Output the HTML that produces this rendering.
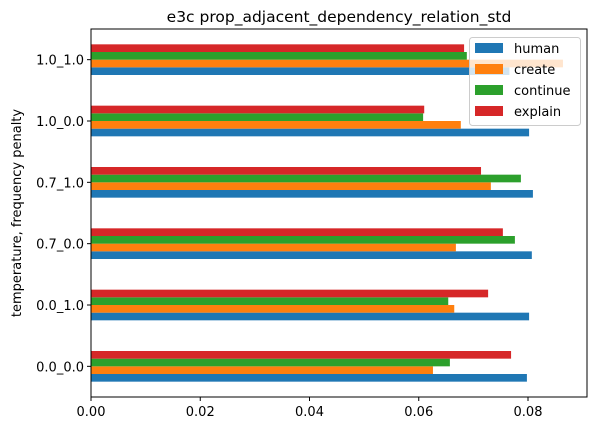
<!DOCTYPE html>
<html><head><meta charset="utf-8"><style>
body{margin:0;background:#fff}
svg text{font-family:"DejaVu Sans","Liberation Sans",sans-serif;fill:#000}
</style></head><body>
<svg id="c" width="596" height="433"></svg>
<script>
const categories=["0.0_0.0","0.0_1.0","0.7_0.0","0.7_1.0","1.0_0.0","1.0_1.0"];
const seriesNames=["human","create","continue","explain"];
const human=[0.0798,0.0802,0.0807,0.0809,0.0802,0.0766];
const create=[0.0626,0.0665,0.0668,0.0732,0.0677,0.0864];
const cont=[0.0657,0.0654,0.0776,0.0787,0.0608,0.0688];
const explain=[0.0769,0.0727,0.0754,0.0714,0.0610,0.0683];
const xTicks=[0,0.02,0.04,0.06,0.08];
const xTickLabels=["0.00","0.02","0.04","0.06","0.08"];
const colors=["#1f77b4","#ff7f0e","#2ca02c","#d62728"];
const series=[human,create,cont,explain];
const L=91,R=587,T=29,B=397;
const NS="http://www.w3.org/2000/svg";
const svg=document.getElementById('c');
function x(v){return L+v*5462.5;}
const step=(B-T)/categories.length;
function yc(i){return B-step*(i+0.5);}
const bw=step*0.5/4;
function mk(t,a,p){const e=document.createElementNS(NS,t);for(const k in a)e.setAttribute(k,a[k]);(p||svg).appendChild(e);return e;}
series.forEach((s,si)=>{s.forEach((v,i)=>{
 const top=yc(i)+step*0.25-bw*(si+1);
 const r=mk('rect',{x:L,y:top,width:x(v)-L,height:bw,fill:colors[si]});
 
 
});});
const fr=mk('rect',{x:L,y:T,width:R-L,height:B-T,fill:'none',stroke:'#000','stroke-width':1});

xTicks.forEach((v,i)=>{
 mk('line',{x1:x(v),x2:x(v),y1:B,y2:B+4,stroke:'#000'});
 const t=mk('text',{x:x(v),y:B+19,'text-anchor':'middle','font-size':13});t.textContent=xTickLabels[i];
 
});
categories.forEach((c,i)=>{
 mk('line',{x1:L-4,x2:L,y1:yc(i),y2:yc(i),stroke:'#000'});
 const t=mk('text',{x:L-7,y:yc(i)+5,'text-anchor':'end','font-size':13});t.textContent=c;
 
});
const ti=mk('text',{x:(L+R)/2,y:22,'text-anchor':'middle','font-size':15.5});ti.textContent='e3c prop_adjacent_dependency_relation_std';

const yt=mk('text',{x:21,y:(T+B)/2,'text-anchor':'middle','font-size':13,transform:'rotate(-90 21 '+((T+B)/2)+')'});yt.textContent='temperature, frequency penalty';

const lg=mk('g',{});
mk('rect',{x:469.5,y:37.5,width:111,height:88,rx:3,fill:'rgba(255,255,255,0.8)',stroke:'#ccc'},lg);
seriesNames.forEach((n,i)=>{
 const yy=48+i*21;
 mk('rect',{x:475,y:yy-5,width:28,height:10,fill:colors[i]},lg);
 const t=mk('text',{x:514,y:yy+5,'font-size':13},lg);t.textContent=n;
 
});
</script></body></html>
